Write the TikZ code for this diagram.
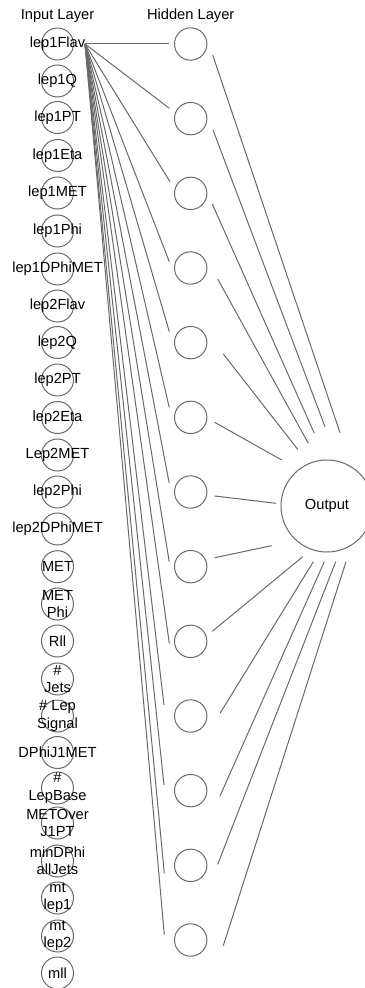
\documentclass[tikz,border=0pt]{standalone}
\usepackage{fontspec}
\setmainfont{Liberation Sans}
\definecolor{linegray}{RGB}{105,105,105}
\begin{document}
\begin{tikzpicture}[x=0.75pt,y=-0.75pt,
  edge/.style={draw=linegray, line width=0.75pt},
  neuron/.style={circle, draw=linegray, line width=0.75pt, minimum size=24pt, inner sep=0pt},
  lbl/.style={font=\fontsize{11}{13}\selectfont, align=center, text=black, inner sep=0pt},
]
\useasboundingbox (0,0) rectangle (364,988);

% layer titles
\node[lbl, anchor=base] (inTitle) at (57.5,19.5) {Input Layer};
\node[lbl, anchor=base] (hidTitle) at (190.7,19.5) {Hidden Layer};

% input layer
\foreach \y/\t [count=\k] in {
  44/lep1Flav, 81/lep1Q, 117.5/lep1PT, 155.5/lep1Eta, 193/lep1MET,
  231/lep1Phi, 269/lep1DPhiMET, 306/lep2Flav, 342.5/lep2Q, 380/lep2PT,
  417.5/lep2Eta, 455/Lep2MET, 492/lep2Phi, 529/lep2DPhiMET, 566.7/MET,
  604/{MET\\Phi}, 641/Rll, 679/{\#\\Jets}, 716/{\# Lep\\Signal}, 752.5/DPhiJ1MET,
  788/{\#\\LepBase}, 823/{METOver\\J1PT}, 861/{minDPhi\\allJets},
  898/{mt\\lep1}, 936/{mt\\lep2}, 973/mll}{
  \node[neuron] (in\k) at (57.5,\y) {};
  \node[lbl] (txt\k) at (in\k.center) {\t};
}

% hidden layer
\foreach \i in {1,...,13}{
  \node[neuron, minimum size=24.3pt] (h\i) at (190.7,{44+74.667*(\i-1)}) {};
}

% output neuron
\node[neuron, minimum size=69pt, lbl] (out) at (327,506) {Output};

% lep1Flav -> hidden
\foreach \i/\dx/\dy in {
  1/-21.7/0, 2/-21.4/-10.4, 3/-20.7/-11.6, 4/-21.4/-6.3, 5/-21.4/-11,
  6/-21.5/-10, 7/-21.5/-9, 8/-21.5/-5, 9/-21.4/2, 10/-26.7/-11,
  11/-26.7/-5.7, 12/-26.4/8, 13/-26.4/-5.3}{
  \draw[edge] ([shift={(27.5,0)}]in1.center) -- ([shift={(\dx,\dy)}]h\i.center);
}

% hidden -> output
\foreach \i/\sx/\sy/\ex/\ey in {
  1/22/11/13/-73.3, 2/22.3/11.3/-2/-79.3, 3/21.6/10.7/-12.7/-72.7,
  4/27/11/-18.7/-62.7, 5/32.6/11.3/-29.3/-56.7, 6/24/5/-45.3/-46,
  7/24/4/-51/-2.7, 8/24/-9/-55.3/39.7, 9/21.6/-10/-24.3/50.7,
  10/29.3/-2.7/-13.7/55.7, 11/29.3/5.3/-2.7/55.7, 12/27/-1/8.7/55.7,
  13/32.6/5.7/19/55.7}{
  \draw[edge] ([shift={(\sx,\sy)}]h\i.center) -- ([shift={(\ex,\ey)}]out.center);
}
\end{tikzpicture}
\end{document}
